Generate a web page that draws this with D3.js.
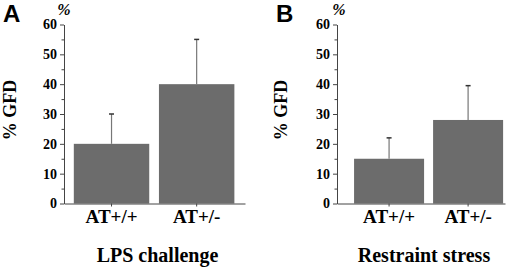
<!DOCTYPE html>
<html>
<head>
<meta charset="utf-8">
<script src="https://cdn.jsdelivr.net/npm/d3@7"></script>
<style>
  body { margin: 0; background: #fff; }
  svg text { font-family: 'Liberation Serif', 'Times New Roman', serif; font-weight: bold; fill: #000; }
  .yAxis path, .yAxis line, .xAxis path, .xAxis line { stroke: #444; }
</style>
</head>
<body>
<div id="chart"></div>
<script>
let categories = ['AT+/+', 'AT+/-'];
let lpsMeans = [20, 40];
let lpsUpper = [30, 55];
let stressMeans = [15, 28];
let stressUpper = [22, 39.5];
let yTicks = [0, 10, 20, 30, 40, 50, 60];
let yMinor = [5, 15, 25, 35, 45, 55];

let svg = d3.select('#chart').append('svg')
    .attr('width', 520)
    .attr('height', 268);

function draw_panel (opt) {
    let g = svg.append('g');
    let x = d3.scaleBand()
        .domain(categories)
        .range([opt.x0, opt.x1])
        .paddingInner(0.114)
        .paddingOuter(0.12)
        .align(opt.align);
    let y = d3.scaleLinear()
        .domain([0, 60])
        .range([203.5, 24.5]);

    g.append('g') // bars
        .selectAll('rect')
        .data(opt.means).enter().append('rect')
        .attr('x', function(d, i) { return x(categories[i]); })
        .attr('y', function(d) { return y(d); })
        .attr('width', x.bandwidth())
        .attr('height', function(d) { return y(0) - y(d); })
        .attr('fill', '#6c6c6c');
    g.append('g') // error bars, upper half only
        .selectAll('line')
        .data(opt.upper).enter().append('line')
        .attr('x1', function(d, i) { return x(categories[i]) + x.bandwidth() / 2; })
        .attr('x2', function(d, i) { return x(categories[i]) + x.bandwidth() / 2; })
        .attr('y1', function(d, i) { return y(opt.means[i]); })
        .attr('y2', function(d) { return y(d); })
        .attr('stroke', '#777')
        .attr('stroke-width', 1.2);
    g.append('g') // error bar caps
        .selectAll('line')
        .data(opt.upper).enter().append('line')
        .attr('x1', function(d, i) { return x(categories[i]) + x.bandwidth() / 2 - 2.5; })
        .attr('x2', function(d, i) { return x(categories[i]) + x.bandwidth() / 2 + 2.5; })
        .attr('y1', function(d) { return y(d); })
        .attr('y2', function(d) { return y(d); })
        .attr('stroke', '#333')
        .attr('stroke-width', 1.5);

    g.append('g') // minor y ticks
        .attr('class', 'yAxis')
        .attr('transform', 'translate(' + opt.x0 + ',0)')
        .call(d3.axisLeft(y).tickValues(yMinor).tickSize(2.5).tickFormat(''))
        .select('.domain').remove();
    g.append('g') // y axis
        .attr('class', 'yAxis')
        .attr('transform', 'translate(' + opt.x0 + ',0)')
        .call(d3.axisLeft(y).tickValues(yTicks).tickSize(4).tickSizeOuter(0).tickPadding(3))
        .selectAll('text')
        .style('font-family', "'Liberation Serif', 'Times New Roman', serif")
        .style('font-weight', 'bold')
        .style('font-size', '14px');
    g.append('g') // x axis
        .attr('class', 'xAxis')
        .attr('transform', 'translate(0,' + y(0) + ')')
        .call(d3.axisBottom(x).tickSize(3).tickSizeOuter(0).tickPadding(3))
        .selectAll('text')
        .style('font-family', "'Liberation Serif', 'Times New Roman', serif")
        .style('font-weight', 'bold')
        .style('font-size', '19px');

    g.append('text') // panel letter
        .attr('x', opt.x0 - 61)
        .attr('y', 22)
        .style('font-family', "'Liberation Sans', Arial, sans-serif")
        .style('font-size', '24px')
        .text(opt.letter);
    g.append('text') // unit above y axis
        .attr('x', opt.x0 + opt.pctDx)
        .attr('y', 15)
        .attr('text-anchor', 'middle')
        .style('font-size', '16px')
        .style('font-style', 'italic')
        .text('%');
    g.append('text') // y axis label
        .attr('transform', 'translate(' + (opt.x0 - opt.yLabelDx) + ',' + 110 + ') rotate(-90)')
        .attr('text-anchor', 'middle')
        .style('font-size', '18px')
        .text('% GFD');
    g.append('text') // x axis title
        .attr('x', (opt.x0 + opt.x1) / 2 + 3)
        .attr('y', 262)
        .attr('text-anchor', 'middle')
        .style('font-size', '20px')
        .text(opt.title);
}

draw_panel({x0: 64, x1: 245, align: 0.48, means: lpsMeans, upper: lpsUpper,
    letter: 'A', title: 'LPS challenge', pctDx: 0, yLabelDx: 48});
draw_panel({x0: 337, x1: 505, align: 0.9, means: stressMeans, upper: stressUpper,
    letter: 'B', title: 'Restraint stress', pctDx: 2, yLabelDx: 50});
</script>
</body>
</html>
